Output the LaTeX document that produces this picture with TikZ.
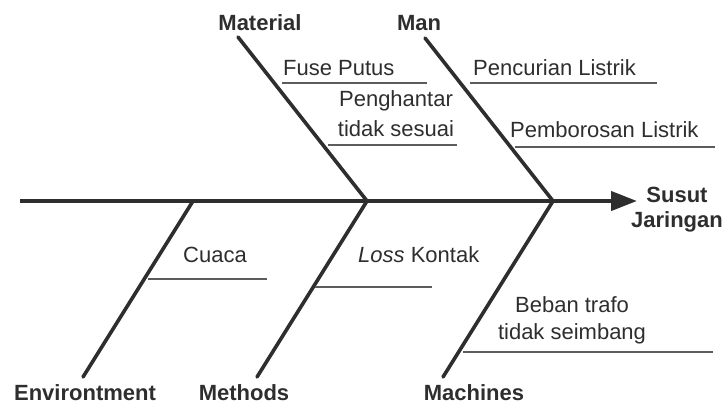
\documentclass[tikz,border=0pt]{standalone}
\usepackage{fontspec}
\setmainfont{Liberation Sans}
\usetikzlibrary{arrows.meta}
\definecolor{ink}{HTML}{2E2E2E}
\definecolor{twigcol}{HTML}{5C5C5C}
\begin{document}
\begin{tikzpicture}[x=1pt,y=-1pt,
  bone/.style={draw=ink,line width=3.6pt,line cap=round},
  spine/.style={draw=ink,line width=4.2pt,-{Triangle[length=26pt,width=19pt]}},
  twig/.style={draw=twigcol,line width=1.1pt},
  head/.style={font=\fontsize{22}{25}\selectfont\bfseries,text=ink,inner sep=0pt},
  cause/.style={font=\fontsize{22}{27.5}\selectfont,text=ink,inner sep=0pt}]
\useasboundingbox (0,0) rectangle (727,405);

% spine and effect
\coordinate (tail) at (20,201);
\coordinate (tip) at (637,201);
\draw[spine] (tail) -- (tip);
\node[head,align=center,anchor=base] (effect) at (677,227) {Susut\\Jaringan};

% junctions on the spine
\coordinate (j1) at (193,201);
\coordinate (j2) at (367,201);
\coordinate (j3) at (553,201);

% bone ends
\coordinate (matEnd) at (238,37);
\coordinate (manEnd) at (425,38);
\coordinate (envEnd) at (83,377);
\coordinate (metEnd) at (257,377);
\coordinate (macEnd) at (443,377);

\draw[bone] (matEnd) -- (j2);
\draw[bone] (manEnd) -- (j3);
\draw[bone] (envEnd) -- (j1);
\draw[bone] (metEnd) -- (j2);
\draw[bone] (macEnd) -- (j3);

% category labels
\node[head,anchor=base] (material) at (260,30) {Material};
\node[head,anchor=base] (man) at (419,30) {Man};
\node[head,anchor=base] (environment) at (85,400) {Environtment};
\node[head,anchor=base] (methods) at (244,400) {Methods};
\node[head,anchor=base] (machines) at (474,400) {Machines};

% causes
\node[cause,anchor=base west] (fuse) at (283,75) {Fuse Putus};
\node[cause,align=center,anchor=north] (pengh) at (396,90) {Penghantar\\[3pt]tidak sesuai};
\node[cause,anchor=base west] (pencurian) at (473,75) {Pencurian Listrik};
\node[cause,anchor=base west] (pemborosan) at (510,137) {Pemborosan Listrik};
\node[cause,anchor=base west] (cuaca) at (183,262) {Cuaca};
\node[cause,anchor=base west] (loss) at (358,262) {\itshape Loss\upshape{} Kontak};
\node[cause,align=center,anchor=north] (beban) at (572,296) {Beban trafo\\tidak seimbang};

% cause underlines
\coordinate (t1a) at (282,83);  \coordinate (t1b) at (427,83);
\coordinate (t2a) at (328,145); \coordinate (t2b) at (457,145);
\coordinate (t3a) at (470,83);  \coordinate (t3b) at (657,83);
\coordinate (t4a) at (515,147); \coordinate (t4b) at (715,147);
\coordinate (t5a) at (148,279); \coordinate (t5b) at (267,279);
\coordinate (t6a) at (315,287); \coordinate (t6b) at (432,287);
\coordinate (t7a) at (463,352); \coordinate (t7b) at (713,352);
\draw[twig] (t1a) -- (t1b);
\draw[twig] (t2a) -- (t2b);
\draw[twig] (t3a) -- (t3b);
\draw[twig] (t4a) -- (t4b);
\draw[twig] (t5a) -- (t5b);
\draw[twig] (t6a) -- (t6b);
\draw[twig] (t7a) -- (t7b);
\end{tikzpicture}
\end{document}
